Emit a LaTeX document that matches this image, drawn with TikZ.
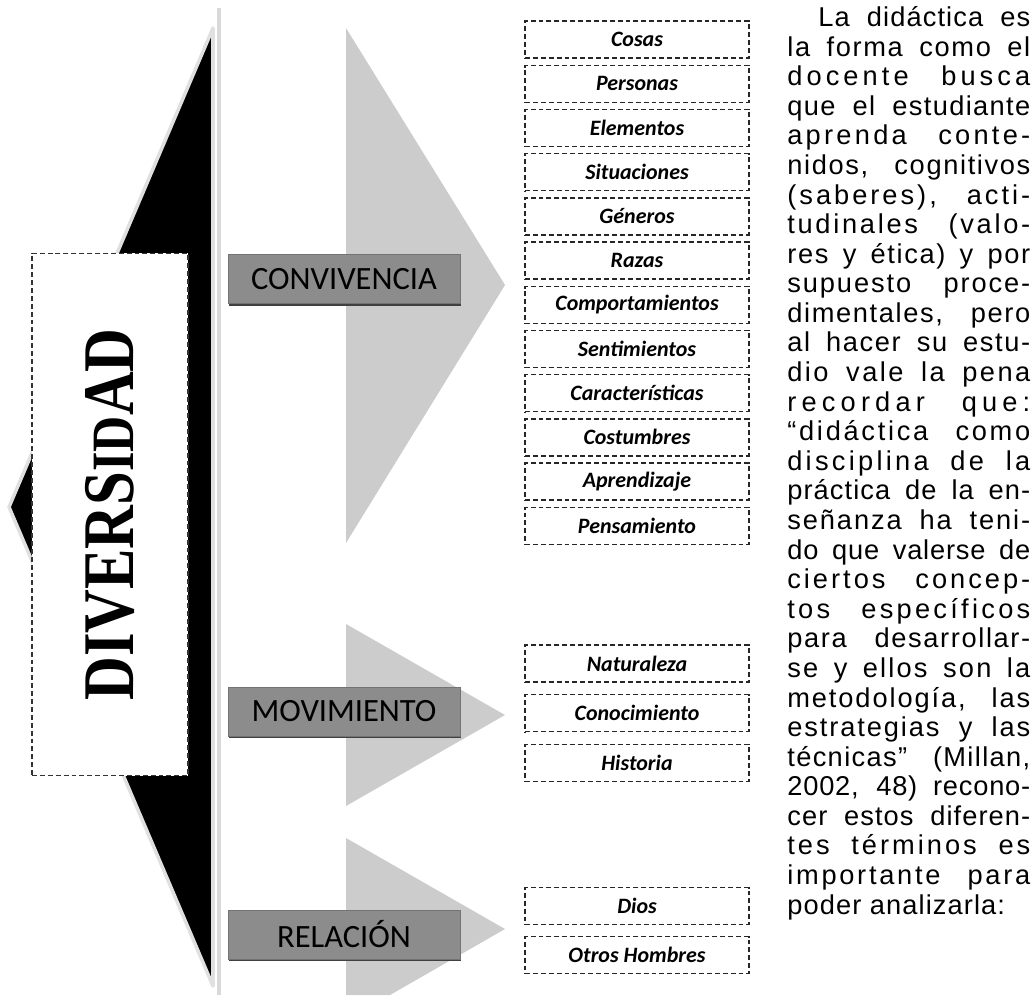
\documentclass[tikz,border=0pt]{standalone}
\usepackage{fontspec}
\usepackage{graphicx}
\setmainfont{Liberation Sans}
\newfontfamily\calfont{Carlito}
\newfontface\itemfont{Carlito Bold Italic}
\newfontfamily\divfont{Liberation Serif}
\usetikzlibrary{shadows}

\newcommand{\ls}[2]{{\addfontfeature{LetterSpace=#1}#2}}

\tikzset{
  catbox/.style={draw=black!55, fill=black!45, minimum width=4.64cm, minimum height=0.98cm, inner sep=0pt,
    font=\calfont\fontsize{18.5}{20}\selectfont, text=black,
    drop shadow={shadow xshift=0.7pt, shadow yshift=-1.4pt, fill=black!75, opacity=1}},
  itembox/.style={draw=black!85, line width=0.8pt, dash pattern=on 2.8pt off 1.7pt, minimum width=4.48cm,
    minimum height=0.74cm, inner sep=0pt, font=\itemfont\fontsize{12.5}{14}\selectfont},
  gtri/.style={fill=black!20}
}

\begin{document}
\begin{tikzpicture}[x=0.02cm, y=-0.02cm]
  \useasboundingbox (0,0) rectangle (1034,995);
  % black wedge and gray rule
  \filldraw[draw=black!12, line width=2pt, line join=round, fill=black] (213,28) -- (9,507) -- (213,986) -- cycle;
  \draw[black!15, line width=2pt] (219,8) -- (219,995);
  \fill[gtri] (346,28) -- (505,285) -- (346,543) -- cycle;
  \fill[gtri] (346,624) -- (505,715) -- (346,806) -- cycle;
  \fill[gtri] (346,838) -- (505,929) -- (390,995) -- (346,995) -- cycle;

  \node[draw=black!80, line width=0.6pt, dash pattern=on 2.8pt off 1.7pt, fill=white, minimum width=3.12cm, minimum height=10.46cm] (divbox) at (110,514.5) {};
  \node[rotate=90, inner sep=0pt, font=\divfont\bfseries\fontsize{34.5}{34.5}\selectfont] (div) at (divbox.center)
    {\scalebox{1}[1.2]{DIVERS{\fontsize{28.5}{28.5}\selectfont ID}AD}};

  \node[catbox] (conv) at (344,279) {CONVIVENCIA};
  \node[catbox] (mov) at (344,711.5) {MOVIMIENTO};
  \node[catbox] (rel) at (344,934.5) {RELACIÓN};

  \foreach \name [count=\i from 0] in {Cosas, Personas, Elementos, Situaciones, Géneros, Razas, Comportamientos,
      Sentimientos, Características, Costumbres, Aprendizaje, Pensamiento}
    \node[itembox] (conv-\i) at (637,39.5+44.2*\i) {\name};
  \foreach \name [count=\i from 0] in {Naturaleza, Conocimiento, Historia}
    \node[itembox] (mov-\i) at (637,663.5+49.7*\i) {\name};
  \foreach \name [count=\i from 0] in {Dios, Otros Hombres}
    \node[itembox] (rel-\i) at (637,906+49*\i) {\name};

  \node[anchor=base west, inner sep=0pt] (texto) at (787,26.5) {\parbox[t]{4.86cm}{%
    \fontsize{15.5}{16.84}\selectfont\tolerance=10000\hbadness=10000\pretolerance=-1
    \hspace*{0.62cm}\ls{4}{La didáctica es}\linebreak \ls{6}{la forma como el}\linebreak
    \ls{15}{docente busca}\linebreak \ls{5}{que el estudiante}\linebreak
    \ls{12}{aprenda conte-}\linebreak \ls{6}{nidos, cognitivos}\linebreak
    \ls{11}{(saberes), acti-}\linebreak \ls{10}{tudinales (valo-}\linebreak
    \ls{6}{res y ética) y por}\linebreak \ls{7}{supuesto proce-}\linebreak
    \ls{6}{dimentales, pero}\linebreak \ls{6}{al hacer su estu-}\linebreak
    \ls{9}{dio vale la pena}\linebreak \ls{19}{recordar que:}\linebreak
    \ls{10}{“didáctica como}\linebreak \ls{12}{disciplina de la}\linebreak
    \ls{4}{práctica de la en-}\linebreak \ls{7}{señanza ha teni-}\linebreak
    \ls{3}{do que valerse de}\linebreak \ls{11}{ciertos concep-}\linebreak
    \ls{12}{tos específicos}\linebreak \ls{6}{para desarrollar-}\linebreak
    \ls{8}{se y ellos son la}\linebreak \ls{7}{metodología, las}\linebreak
    \ls{7}{estrategias y las}\linebreak \ls{5}{técnicas” (Millan,}\linebreak
    \ls{3}{2002, 48) recono-}\linebreak \ls{4}{cer estos diferen-}\linebreak
    \ls{11}{tes términos es}\linebreak \ls{10}{importante para}\linebreak
    \ls{4}{poder analizarla:}}};
\end{tikzpicture}
\end{document}
